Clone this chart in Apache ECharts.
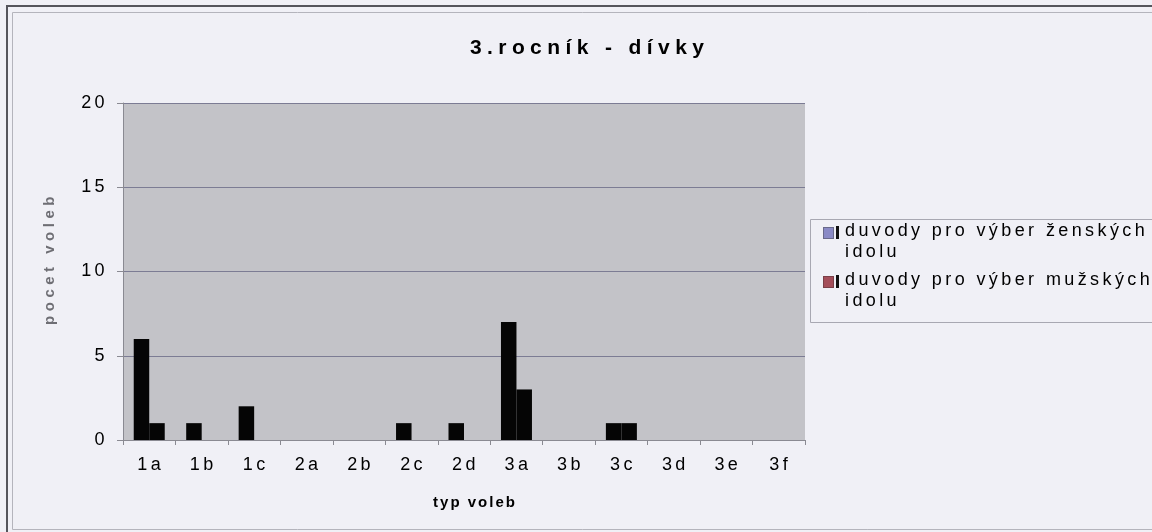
<!DOCTYPE html>
<html>
<head>
<meta charset="utf-8">
<script src="https://cdn.jsdelivr.net/npm/echarts@6/dist/echarts.min.js"></script>
<style>
html,body{margin:0;padding:0;background:#f0f0f6;}
#c{width:1152px;height:532px;}
</style>
</head>
<body>
<div id="c"></div>
<script>
// ---- data ----
const categories = ['1a','1b','1c','2a','2b','2c','2d','3a','3b','3c','3d','3e','3f'];
const femaleVotes = [6,1,2,0,0,1,1,7,0,1,0,0,0];
const maleVotes   = [1,0,0,0,0,0,0,3,0,1,0,0,0];
const seriesNames = ['duvody pro výber ženských idolu','duvody pro výber mužských idolu'];
const titleText = '3.rocník - dívky';
const xName = 'typ voleb';
const yName = 'pocet voleb';
const yMin = 0, yMax = 20, yStep = 5;

// letter spacing emulation for the scanned, widely spaced lettering
const proto = CanvasRenderingContext2D.prototype;
const origFill = proto.fillText;
proto.fillText = function(t, x, y, w) {
  const f = this.font || '';
  const m = /(\d+(?:\.\d+)?)px/.exec(f);
  const size = m ? parseFloat(m[1]) : 12;
  let s = 3.4;
  if (/bold|700/.test(f)) {
    if (size >= 19) s = 5.4;
    else if (String(t).indexOf('pocet') >= 0) s = 4.5;
    else s = 2;
  }
  this.letterSpacing = s + 'px';
  return w === undefined ? origFill.call(this, t, x, y) : origFill.call(this, t, x, y, w);
};

function iconSvg(fill, stroke) {
  const svg = '<svg xmlns="http://www.w3.org/2000/svg" width="17" height="42" viewBox="0 0 17 42" preserveAspectRatio="none">' +
    '<rect x="0.5" y="6.5" width="10" height="11" fill="' + fill + '" stroke="' + stroke + '" stroke-width="1"/>' +
    '<rect x="13" y="5" width="3" height="13" fill="#111"/></svg>';
  return 'image://data:image/svg+xml;charset=utf-8,' + encodeURIComponent(svg);
}

const FONT = 'Liberation Sans, Arial, sans-serif';
const chart = echarts.init(document.getElementById('c'), null, {renderer: 'canvas', width: 1152, height: 532});

chart.setOption({
  animation: false,
  backgroundColor: '#f0f0f6',
  title: {
    text: titleText,
    left: 470,
    top: 38,
    padding: 0,
    textStyle: {fontFamily: FONT, fontSize: 21, fontWeight: 'bold', color: '#000'}
  },
  graphic: [
    {type: 'line', shape: {x1: 7, y1: 6, x2: 1152, y2: 6}, style: {stroke: '#55555c', lineWidth: 2}, silent: true},
    {type: 'line', shape: {x1: 7, y1: 5, x2: 7, y2: 532}, style: {stroke: '#55555c', lineWidth: 2}, silent: true},
    {type: 'line', shape: {x1: 12.5, y1: 12.5, x2: 1152, y2: 12.5}, style: {stroke: '#b4b4bc', lineWidth: 1}, silent: true},
    {type: 'line', shape: {x1: 12.5, y1: 12.5, x2: 12.5, y2: 529.5}, style: {stroke: '#b4b4bc', lineWidth: 1}, silent: true},
    {type: 'line', shape: {x1: 12.5, y1: 529.5, x2: 1152, y2: 529.5}, style: {stroke: '#b4b4bc', lineWidth: 1}, silent: true},
    {type: 'rect', shape: {x: 810.5, y: 219.5, width: 360, height: 103}, style: {fill: 'none', stroke: '#a8a8b2', lineWidth: 1}, silent: true}
  ],
  legend: {
    orient: 'vertical',
    left: 823,
    top: 221,
    padding: 0,
    itemWidth: 17,
    itemHeight: 42,
    itemGap: 7,
    data: [
      {name: seriesNames[0], icon: iconSvg('#8a8ac6', '#6a6a8a')},
      {name: seriesNames[1], icon: iconSvg('#a44e5a', '#7a4048')}
    ],
    formatter: function (n) { return n.replace(' idolu', '\nidolu'); },
    textStyle: {fontFamily: FONT, fontSize: 18, lineHeight: 21, color: '#000'}
  },
  grid: {
    left: 123, right: 347, top: 103, bottom: 92,
    show: true, backgroundColor: '#c3c3c8', borderWidth: 0,
    containLabel: false
  },
  xAxis: {
    type: 'category',
    data: categories,
    boundaryGap: true,
    name: xName,
    nameLocation: 'middle',
    nameGap: 55,
    nameTextStyle: {fontFamily: FONT, fontSize: 15, fontWeight: 'bold', color: '#000', padding: [0, 0, 0, 22]},
    axisLine: {show: true, lineStyle: {color: '#8a8a92', width: 1}},
    axisTick: {show: true, alignWithLabel: false, length: 5, lineStyle: {color: '#8a8a92'}},
    axisLabel: {fontFamily: FONT, fontSize: 18, color: '#000', margin: 16, interval: 0, padding: [0, 0, 0, 3]},
    splitLine: {show: false}
  },
  yAxis: {
    type: 'value',
    min: yMin, max: yMax, interval: yStep,
    name: yName,
    nameLocation: 'middle',
    nameRotate: 90,
    nameGap: 66,
    nameTextStyle: {fontFamily: FONT, fontSize: 15, fontWeight: 'bold', color: '#6e6e74', padding: [0, 0, 0, 26]},
    axisLine: {show: true, lineStyle: {color: '#8a8a92', width: 1}},
    axisTick: {show: true, inside: false, length: 6, lineStyle: {color: '#8a8a92'}},
    axisLabel: {fontFamily: FONT, fontSize: 18, color: '#000', margin: 15},
    splitLine: {show: true, lineStyle: {color: '#7c7c94', width: 1}}
  },
  series: [
    {
      name: seriesNames[0], type: 'bar', data: femaleVotes,
      barWidth: 15.5, barGap: '0%',
      itemStyle: {color: '#050505'}
    },
    {
      name: seriesNames[1], type: 'bar', data: maleVotes,
      barWidth: 15.5, barGap: '0%',
      itemStyle: {color: '#050505'}
    }
  ]
});
</script>
</body>
</html>
